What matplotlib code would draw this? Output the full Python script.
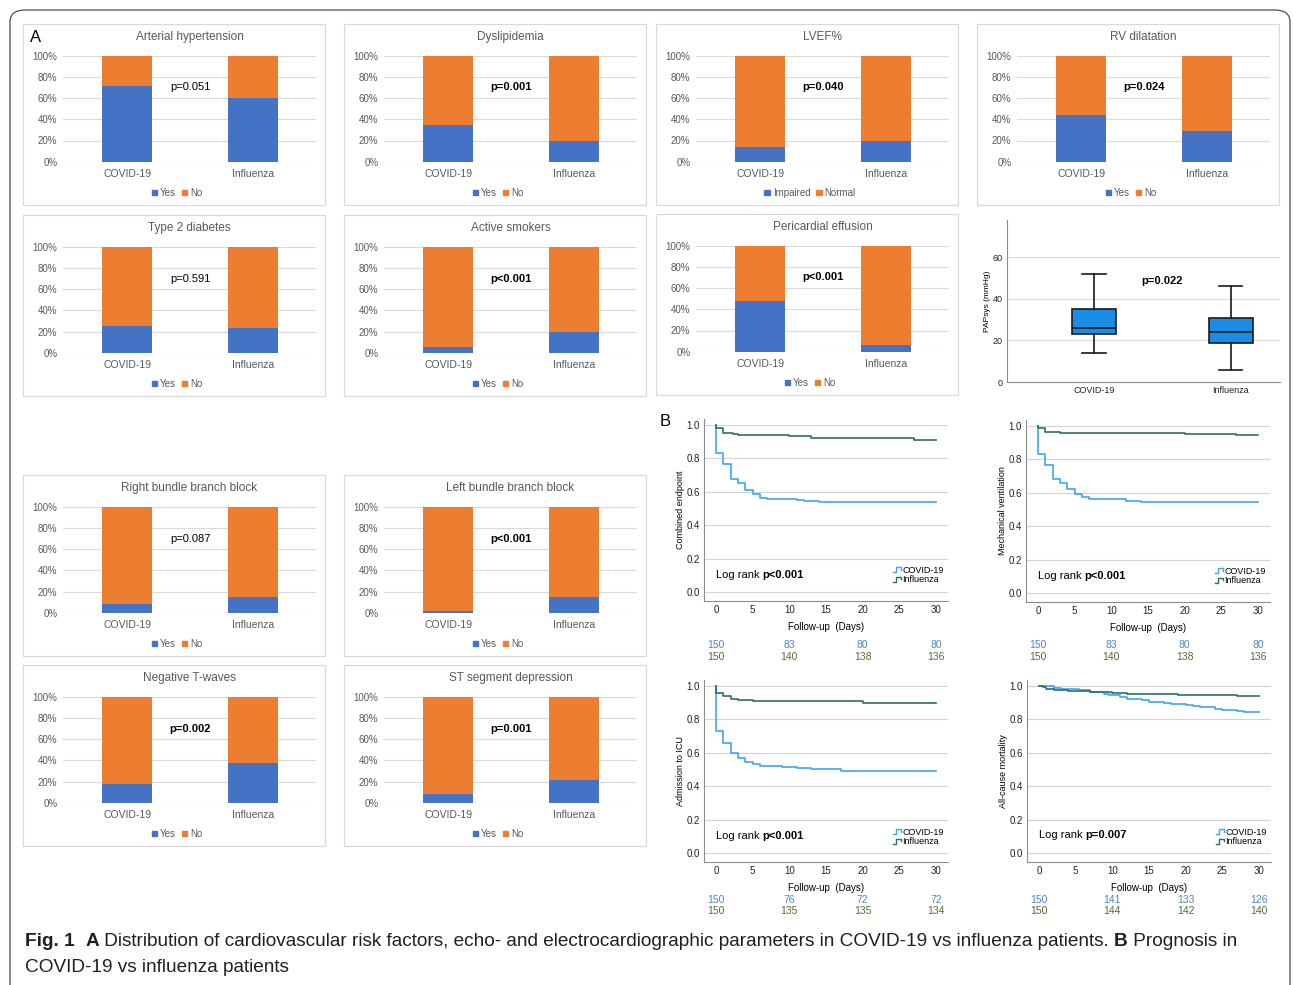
import numpy as np
import matplotlib
matplotlib.use("Agg")
import matplotlib.pyplot as plt
from matplotlib.patches import Rectangle, Patch, FancyBboxPatch
from matplotlib.lines import Line2D
from matplotlib.text import Annotation
from matplotlib.legend_handler import HandlerBase
from matplotlib.ticker import PercentFormatter
import matplotlib.transforms as mtransforms

plt.rcParams['font.family'] = ['Liberation Sans', 'DejaVu Sans']

# ---- data: part A, share of "Yes" (COVID-19, Influenza)
groups = ['COVID-19', 'Influenza']
bar_titles = ['Arterial hypertension', 'Dyslipidemia', 'LVEF%', 'RV dilatation',
              'Type 2 diabetes', 'Active smokers', 'Pericardial effusion',
              'Right bundle branch block', 'Left bundle branch block',
              'Negative T-waves', 'ST segment depression']
yes_covid = [0.71, 0.35, 0.135, 0.44, 0.25, 0.05, 0.48, 0.08, 0.02, 0.18, 0.08]
yes_flu = [0.60, 0.195, 0.195, 0.29, 0.23, 0.20, 0.06, 0.15, 0.15, 0.37, 0.21]
p_vals = ['p=0.051', 'p=0.001', 'p=0.040', 'p=0.024', 'p=0.591', 'p<0.001',
          'p<0.001', 'p=0.087', 'p<0.001', 'p=0.002', 'p=0.001']
p_bold = [False, True, True, True, False, True, True, False, True, True, True]
leg_labels = [('Yes', 'No')] * 2 + [('Impaired', 'Normal')] + [('Yes', 'No')] * 8
# panel top-left corners (px)
panel_xy = [(23, 24), (344, 24), (656, 24), (977, 24),
            (23, 215), (344, 215), (656, 214),
            (23, 475), (344, 475),
            (23, 665), (344, 665)]

# PAPsys box plot stats
pap_low = [14, 6]
pap_q1 = [23, 19]
pap_med = [26, 24]
pap_q3 = [35, 31]
pap_high = [52, 46]

# ---- data: part B, Kaplan-Meier steps
km_names = ['Combined endpoint', 'Mechanical ventilation', 'Admission to ICU', 'All-cause mortality']
km_logrank = ['p<0.001', 'p<0.001', 'p<0.001', 'p=0.007']
cov_t = [
    [0, 0, 1, 2, 3, 4, 5, 6, 7, 11, 12, 14, 30],
    [0, 0, 1, 2, 3, 4, 5, 6, 7, 11, 12, 14, 30],
    [0, 0, 1, 2, 3, 4, 5, 6, 9, 11, 13, 17, 30],
    [0, 2, 3, 5.5, 7, 8.8, 9.5, 11, 12, 14, 15, 17, 18, 20, 21, 22, 24, 25, 27, 28, 30],
]
cov_s = [
    [1.0, 0.83, 0.765, 0.675, 0.65, 0.61, 0.585, 0.565, 0.558, 0.55, 0.545, 0.54, 0.54],
    [1.0, 0.835, 0.765, 0.685, 0.66, 0.62, 0.595, 0.575, 0.565, 0.56, 0.553, 0.545, 0.545],
    [1.0, 0.73, 0.658, 0.598, 0.569, 0.547, 0.533, 0.521, 0.515, 0.507, 0.5, 0.493, 0.493],
    [1.0, 0.99, 0.985, 0.975, 0.965, 0.955, 0.945, 0.935, 0.925, 0.915, 0.905, 0.9, 0.89,
     0.885, 0.878, 0.872, 0.862, 0.855, 0.848, 0.845, 0.845],
]
flu_t = [
    [0, 0, 1, 2.3, 3, 10, 13, 20, 27, 30],
    [0, 0, 1, 3, 20, 27, 30],
    [0, 0, 1, 2, 3, 5, 20, 30],
    [0, 0.5, 1, 2, 4, 7, 10, 12, 15, 19, 27, 30],
]
flu_s = [
    [1.0, 0.98, 0.955, 0.945, 0.94, 0.933, 0.925, 0.92, 0.913, 0.913],
    [1.0, 0.99, 0.967, 0.96, 0.955, 0.945, 0.945],
    [1.0, 0.956, 0.938, 0.922, 0.916, 0.908, 0.9, 0.9],
    [1.0, 0.995, 0.985, 0.975, 0.97, 0.965, 0.96, 0.955, 0.95, 0.945, 0.94, 0.94],
]
risk_days = [0, 10, 20, 30]
risk_cov = [[150, 83, 80, 80], [150, 83, 80, 80], [150, 76, 72, 72], [150, 141, 133, 126]]
risk_flu = [[150, 140, 138, 136], [150, 140, 138, 136], [150, 135, 135, 134], [150, 144, 142, 140]]
km_xy = [(704, 419), (1026, 420), (704, 680), (1027, 680)]
risk_y = [(645, 657), (645, 657), (900, 911), (900, 911)]
logrank_y = [0.10, 0.10, 0.10, 0.11]

W, H = 1293, 985
BLUE, ORANGE = '#4472C4', '#ED7D31'
GRAYTXT = '#595959'
COV_C, FLU_C = '#3DA5EC', '#2F6E69'


def rect(x0, y0, w, h):
    return [x0 / W, 1 - (y0 + h) / H, w / W, h / H]


fig = plt.figure(figsize=(W / 100, H / 100), dpi=100)

# outer frame
fig.add_artist(FancyBboxPatch((10 / W, -0.05), 1280 / W, 1 - 10 / H + 0.05,
                              boxstyle='round,pad=0,rounding_size=0.012',
                              transform=fig.transFigure, fill=False,
                              ec='#4d4d4d', lw=0.9))

fig.text(30 / W, 1 - 37 / H, 'A', fontsize=12, va='center')
fig.text(660 / W, 1 - 421 / H, 'B', fontsize=12, va='center')

# ---- part A bar panels
for i, title in enumerate(bar_titles):
    x0, y0 = panel_xy[i]
    fig.add_artist(Rectangle((x0 / W, 1 - (y0 + 181) / H), 302 / W, 181 / H,
                             transform=fig.transFigure, fill=False,
                             ec='#D9D9D9', lw=0.9))
    ax = fig.add_axes(rect(x0 + 40, y0 + 31.7, 253, 106))
    yes = [yes_covid[i], yes_flu[i]]
    no = [1 - v for v in yes]
    ax.bar([0, 1], yes, 0.4, color=BLUE, zorder=3)
    ax.bar([0, 1], no, 0.4, bottom=yes, color=ORANGE, zorder=3)
    ax.set_xlim(-0.51, 1.5)
    ax.set_ylim(0, 1)
    ax.set_yticks(np.arange(0, 1.01, 0.2))
    ax.yaxis.set_major_formatter(PercentFormatter(1.0, decimals=0))
    ax.set_xticks([0, 1])
    ax.set_xticklabels(groups)
    ax.grid(axis='y', color='#D9D9D9', lw=0.8, zorder=0)
    for s in ax.spines.values():
        s.set_visible(False)
    ax.tick_params(axis='y', length=0, pad=4, labelsize=7, labelcolor=GRAYTXT)
    ax.tick_params(axis='x', length=0, pad=5.5, labelsize=7.5, labelcolor=GRAYTXT)
    ax.text(0.5, 0.70, p_vals[i], ha='center', va='center', fontsize=8,
            fontweight='bold' if p_bold[i] else 'normal', color='black')
    fig.text((x0 + 166.5) / W, 1 - (y0 + 13) / H, title, ha='center', va='center',
             fontsize=8.5, color=GRAYTXT)
    handles = [Patch(color=BLUE), Patch(color=ORANGE)]
    fig.legend(handles, leg_labels[i], loc='center',
               bbox_to_anchor=((x0 + 154) / W, 1 - (y0 + 169) / H),
               ncol=2, frameon=False, fontsize=7, handlelength=0.55, handleheight=0.55,
               handletextpad=0.3, columnspacing=0.6, labelcolor=GRAYTXT,
               borderpad=0, borderaxespad=0)

# ---- PAPsys box plot
bx = fig.add_axes(rect(1007, 220, 273, 162))
stats = []
for j, g in enumerate(groups):
    stats.append(dict(label=g, whislo=pap_low[j], q1=pap_q1[j], med=pap_med[j],
                      q3=pap_q3[j], whishi=pap_high[j], fliers=[]))
bx.bxp(stats, positions=[1, 2], widths=0.32, capwidths=0.17, patch_artist=True,
       showfliers=False,
       boxprops=dict(facecolor='#1A8CE6', edgecolor='#1a1a1a', lw=1.2),
       medianprops=dict(color='#1a1a1a', lw=1.2),
       whiskerprops=dict(color='#1a1a1a', lw=1.2),
       capprops=dict(color='#1a1a1a', lw=1.2))
bx.set_xlim(0.365, 2.36)
bx.set_ylim(0, 78)
bx.set_yticks([0, 20, 40, 60])
bx.grid(axis='y', color='#DADADA', lw=0.8)
bx.set_axisbelow(True)
for s in ['top', 'right']:
    bx.spines[s].set_visible(False)
for s in ['left', 'bottom']:
    bx.spines[s].set_color('#8c8c8c')
    bx.spines[s].set_linewidth(0.8)
bx.tick_params(axis='both', length=0, labelsize=6.5, colors='#222222', pad=3)
bx.set_ylabel('PAPsys (mmHg)', fontsize=6, labelpad=1)
bx.text(1.5, 48.5, 'p=0.022', ha='center', va='center', fontsize=8, fontweight='bold')


# ---- part B Kaplan-Meier
class StepHandler(HandlerBase):
    def create_artists(self, legend, orig_handle, xdescent, ydescent, width, height,
                       fontsize, trans):
        xs = np.array([0.0, 0.4, 0.4, 0.95, 0.95]) * width - xdescent
        ys = np.array([0.1, 0.1, 0.85, 0.85, 0.45]) * height - ydescent
        ln = Line2D(xs, ys, color=orig_handle.get_color(), lw=1.0)
        ln.set_transform(trans)
        return [ln]


for k, name in enumerate(km_names):
    x0, y0 = km_xy[k]
    ax = fig.add_axes(rect(x0, y0, 244, 182))
    l1, = ax.step(cov_t[k], cov_s[k], where='post', color=COV_C, lw=1.2, label='COVID-19')
    l2, = ax.step(flu_t[k], flu_s[k], where='post', color=FLU_C, lw=1.2, label='Influenza')
    ax.set_xlim(-1.64, 31.64)
    ax.set_ylim(-0.054, 1.036)
    ax.set_yticks(np.arange(0, 1.01, 0.2))
    ax.set_yticklabels(['%.1f' % v for v in np.arange(0, 1.01, 0.2)])
    ax.set_xticks([0, 5, 10, 15, 20, 25, 30])
    ax.grid(axis='y', color='#D3D3D3', lw=0.8)
    ax.set_axisbelow(True)
    for s in ['top', 'right']:
        ax.spines[s].set_visible(False)
    for s in ['left', 'bottom']:
        ax.spines[s].set_color('#8c8c8c')
        ax.spines[s].set_linewidth(0.8)
    ax.tick_params(axis='both', length=0, labelsize=7, colors='#222222', pad=3)
    ax.set_ylabel(name, fontsize=6.5, labelpad=1)
    ax.set_xlabel('Follow-up  (Days)', fontsize=7, labelpad=5)
    t1 = ax.text(0, logrank_y[k], 'Log rank ', fontsize=8, va='center')
    ax.add_artist(Annotation(km_logrank[k], xy=(1, 0), xycoords=t1, va='bottom',
                             fontsize=8, fontweight='bold'))
    ax.legend(handles=[l1, l2], handler_map={Line2D: StepHandler()},
              loc='center left', bbox_to_anchor=(0.775, 0.143 if k < 2 else 0.137),
              frameon=False, fontsize=6.5, handlelength=0.9, handletextpad=0.1,
              labelspacing=0.05, borderpad=0, borderaxespad=0)
    tr = mtransforms.blended_transform_factory(ax.transData, fig.transFigure)
    for d, a, b in zip(risk_days, risk_cov[k], risk_flu[k]):
        ax.text(d, 1 - risk_y[k][0] / H, str(a), transform=tr, ha='center', va='center',
                fontsize=7.5, color='#4A86C5')
        ax.text(d, 1 - risk_y[k][1] / H, str(b), transform=tr, ha='center', va='center',
                fontsize=7.5, color='#5B6A36')

# ---- caption
cap_font = ['Liberation Sans', 'DejaVu Sans']


def chain(x, y, parts):
    t = fig.text(x, y, parts[0][0], fontsize=13.65, fontweight=parts[0][1],
                 family=cap_font, va='center', color='#231F20')
    for s, w in parts[1:]:
        a = Annotation(s, xy=(1, 0), xycoords=t, va='bottom', fontsize=13.65,
                       fontweight=w, family=cap_font, color='#231F20')
        fig.add_artist(a)
        t = a


chain(25 / W, 1 - 942 / H, [('Fig. 1', 'bold'), ('  ', 'normal'), ('A', 'bold'),
      (' Distribution of cardiovascular risk factors, echo- and electrocardiographic '
       'parameters in COVID-19 vs influenza patients. ', 'normal'),
      ('B', 'bold'), (' Prognosis in', 'normal')])
chain(25 / W, 1 - 968 / H, [('COVID-19 vs influenza patients', 'normal')])

fig.savefig('out.png', dpi=100)
